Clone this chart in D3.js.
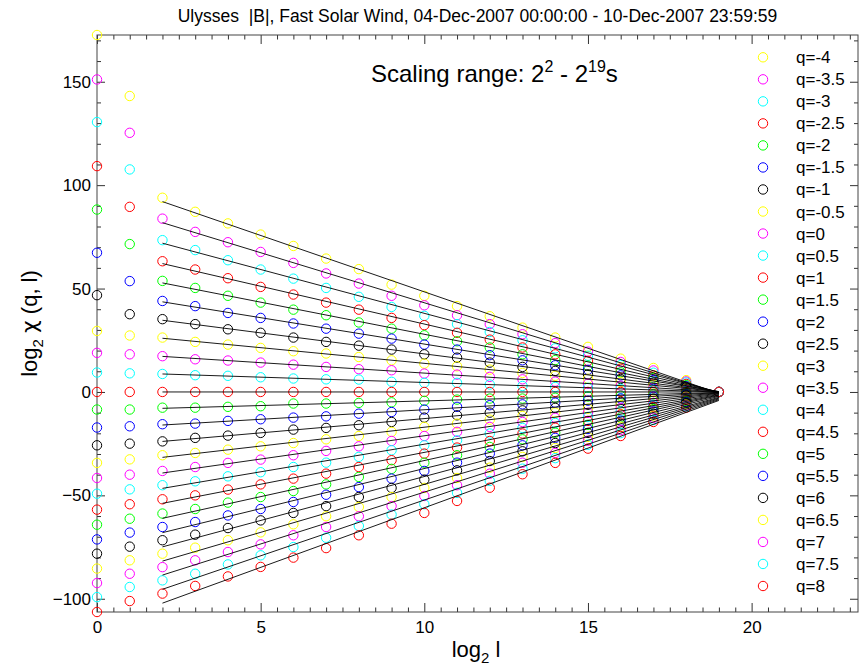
<!DOCTYPE html>
<html>
<head>
<meta charset="utf-8">
<script src="https://cdn.jsdelivr.net/npm/d3@7"></script>
<style>
  body { margin: 0; background: #fff; }
  svg { display: block; font-family: "Liberation Sans", Arial, sans-serif; }
</style>
</head>
<body>
<div id="chart"></div>
<script>
// Multifractal partition function, Ulysses |B|, fast solar wind
const qValues = [-4, -3.5, -3, -2.5, -2, -1.5, -1, -0.5, 0, 0.5, 1, 1.5, 2, 2.5, 3, 3.5, 4, 4.5, 5, 5.5, 6, 6.5, 7, 7.5, 8];
const log2l = [0, 1, 2, 3, 4, 5, 6, 7, 8, 9, 10, 11, 12, 13, 14, 15, 16, 17, 18, 19];

// log2 chi(q, l), one array per scale l, ordered like qValues
const chiL0 = [172.6, 151.1, 130.5, 109.2, 88.2, 67.3, 46.8, 29.5, 18.9, 9.4, 0, -8.5, -17.2, -25.8, -34.3, -41.6, -49.2, -56.9, -64.2, -71.3, -78.2, -85.4, -92.4, -99.2, -106.4];
const chiL1 = [143.1, 125.3, 107.6, 89.5, 71.5, 53.6, 37.6, 27.3, 18.2, 9.0, 0, -8.5, -16.6, -25.0, -32.6, -40.0, -47.1, -54.3, -61.3, -68.0, -74.8, -81.4, -87.9, -94.3, -101.1];
const chiL2 = [93.9, 83.8, 73.4, 63.2, 53.7, 44.0, 35.2, 26.3, 17.3, 8.7, 0, -7.6, -15.6, -23.9, -30.6, -38.2, -45.1, -51.9, -58.8, -65.3, -71.7, -78.2, -84.7, -91.1, -97.5];
const chiL3 = [87.1, 77.4, 68.6, 59.2, 50.3, 41.5, 32.8, 24.2, 15.8, 8.1, 0, -7.6, -15.3, -22.2, -29.5, -36.3, -43.2, -50.0, -56.6, -62.9, -69.0, -75.3, -81.4, -87.9, -93.8];
const chiL4 = [81.5, 72.4, 63.7, 55.0, 46.5, 38.2, 30.3, 22.9, 15.2, 7.8, 0, -7.2, -14.0, -21.1, -27.9, -34.3, -40.8, -47.2, -53.5, -59.7, -65.8, -71.7, -77.4, -83.4, -89.2];
const chiL5 = [76.1, 67.7, 59.2, 50.8, 43.2, 35.8, 28.6, 21.3, 14.2, 7.1, 0, -6.9, -13.2, -19.8, -26.3, -32.7, -38.8, -44.7, -50.8, -56.6, -62.1, -67.9, -73.7, -79.0, -84.6];
const chiL6 = [70.6, 62.4, 54.8, 47.1, 39.8, 33.1, 26.3, 19.7, 13.2, 6.5, 0, -5.6, -12.4, -18.2, -24.7, -30.6, -36.3, -41.9, -47.9, -53.2, -58.5, -64.0, -69.3, -75.0, -80.1];
const chiL7 = [64.5, 57.3, 50.3, 43.2, 37.1, 30.6, 24.2, 18.6, 12.1, 6.1, 0, -5.6, -11.8, -17.4, -22.9, -28.5, -34.2, -39.5, -44.7, -49.7, -55.2, -60.1, -65.3, -70.5, -75.5];
const chiL8 = [59.4, 52.4, 46.0, 39.8, 33.6, 28.2, 22.4, 16.9, 11.0, 6.0, 0, -5.3, -10.5, -16.1, -21.3, -26.3, -31.4, -36.3, -41.1, -46.0, -50.8, -55.6, -60.1, -64.8, -69.3];
const chiL9 = [51.9, 46.5, 41.1, 35.8, 30.6, 25.8, 20.5, 15.3, 10.5, 4.9, 0, -5.0, -9.7, -14.5, -19.3, -23.7, -28.2, -33.0, -37.2, -41.9, -46.4, -50.8, -55.2, -59.3, -63.7];
const chiL10 = [46.5, 41.9, 36.8, 32.3, 27.4, 22.9, 18.2, 13.7, 8.9, 4.4, 0, -4.3, -8.5, -12.4, -16.9, -21.3, -25.8, -29.8, -34.2, -38.2, -42.4, -46.4, -50.3, -54.3, -58.5];
const chiL11 = [41.5, 37.1, 32.8, 28.6, 24.5, 20.5, 16.6, 12.4, 8.4, 4.4, 0, -3.7, -7.2, -11.3, -15.3, -19.3, -23.4, -26.9, -30.6, -34.2, -37.9, -41.6, -45.1, -48.8, -52.7];
const chiL12 = [36.6, 32.8, 29.0, 25.3, 21.5, 17.8, 14.2, 10.8, 7.3, 3.6, 0, -3.2, -6.4, -10.0, -13.4, -16.9, -20.1, -23.7, -26.6, -29.8, -33.4, -36.6, -39.5, -43.0, -46.3];
const chiL13 = [31.1, 27.9, 25.0, 21.5, 18.2, 15.3, 12.1, 9.2, 6.1, 2.9, 0, -3.2, -6.0, -8.9, -11.6, -14.5, -17.4, -20.1, -22.9, -25.8, -28.7, -31.4, -34.2, -37.1, -39.8];
const chiL14 = [26.3, 23.6, 21.1, 18.2, 15.4, 12.9, 10.2, 7.8, 5.0, 2.4, 0, -2.8, -5.2, -7.7, -10.0, -12.5, -15.0, -17.3, -19.7, -22.2, -24.7, -27.1, -29.5, -32.0, -34.3];
const chiL15 = [21.8, 19.5, 17.5, 15.0, 12.7, 10.7, 8.5, 6.4, 4.0, 2.0, 0, -2.2, -4.2, -6.2, -8.1, -10.1, -12.1, -14.0, -15.9, -17.9, -19.8, -21.7, -23.6, -25.5, -27.4];
const chiL16 = [16.1, 14.5, 13.0, 11.2, 9.5, 8.0, 6.3, 4.8, 3.0, 1.5, 0, -1.8, -3.2, -4.8, -6.3, -7.8, -9.4, -10.9, -12.3, -13.9, -15.4, -16.9, -18.4, -19.9, -21.3];
const chiL17 = [11.6, 10.4, 9.3, 8.0, 6.8, 5.7, 4.5, 3.4, 2.0, 1.0, 0, -1.2, -2.2, -3.2, -4.2, -5.3, -6.3, -7.3, -8.3, -9.4, -10.5, -11.4, -12.5, -13.5, -14.5];
const chiL18 = [5.7, 5.1, 4.6, 3.9, 3.3, 2.8, 2.2, 1.6, 1.0, 0.5, 0, -0.6, -1.1, -1.7, -2.2, -2.8, -3.3, -3.8, -4.4, -4.9, -5.5, -6.0, -6.6, -7.1, -7.6];
const chiL19 = [0, 0, 0, 0, 0, 0, 0, 0, 0, 0, 0, 0, 0, 0, 0, 0, 0, 0, 0, 0, 0, 0, 0, 0, 0];

const seriesColors = ['#ffff00', '#ff00ff', '#00ffff', '#ff0000', '#00ff00', '#0000ff', '#000000'];
const xTicks = [0, 5, 10, 15, 20];
const yTicks = [-100, -50, 0, 50, 100, 150];
const fitRange = [2, 19];

const columns = [chiL0, chiL1, chiL2, chiL3, chiL4, chiL5, chiL6, chiL7, chiL8, chiL9,
  chiL10, chiL11, chiL12, chiL13, chiL14, chiL15, chiL16, chiL17, chiL18, chiL19];

const width = 865, height = 666;
const plot = { left: 97, right: 858, top: 35, bottom: 612 };

const svg = d3.select('#chart').append('svg')
  .attr('width', width)
  .attr('height', height);

const x = d3.scaleLinear().domain([0, 23.25]).range([plot.left, plot.right]);
const y = d3.scaleLinear().domain(d3.extent(columns.flat())).range([plot.bottom, plot.top]);

const series = qValues.map((q, i) => ({
  q,
  color: seriesColors[i % seriesColors.length],
  points: log2l.map((l, j) => ({ l, v: columns[j][i] }))
}));

// least squares fit over the scaling range
series.forEach(s => {
  const pts = s.points.filter(p => p.l >= fitRange[0] && p.l <= fitRange[1]);
  const mx = d3.mean(pts, p => p.l), my = d3.mean(pts, p => p.v);
  const slope = d3.sum(pts, p => (p.l - mx) * (p.v - my)) / d3.sum(pts, p => (p.l - mx) ** 2);
  s.fit = fitRange.map(l => ({ l, v: my + slope * (l - mx) }));
});

// Axes (ticks inward on all four sides)
const minorX = d3.range(0, 23.26, 0.5).filter(v => v % 5 !== 0);
const minorY = d3.range(-100, 173, 10).filter(v => v % 50 !== 0);
const axisColor = '#333';

const addAxis = (axis, transform, labels) => {
  const g = svg.append('g').attr('transform', transform).attr('color', axisColor).call(axis);
  g.select('.domain').remove();
  g.selectAll('text').attr('font-size', 17).attr('fill', '#000')
    .attr('font-family', '"Liberation Sans", Arial, sans-serif');
  if (!labels) g.selectAll('text').remove();
  return g;
};

addAxis(d3.axisBottom(x).tickValues(xTicks).tickSize(-9).tickPadding(9).tickFormat(d3.format('d')), `translate(0,${plot.bottom})`, true);
addAxis(d3.axisBottom(x).tickValues(minorX).tickSize(-4.5).tickFormat(''), `translate(0,${plot.bottom})`, false);
addAxis(d3.axisTop(x).tickValues(xTicks).tickSize(-9), `translate(0,${plot.top})`, false);
addAxis(d3.axisTop(x).tickValues(minorX).tickSize(-4.5), `translate(0,${plot.top})`, false);
addAxis(d3.axisLeft(y).tickValues(yTicks).tickSize(-8).tickPadding(6).tickFormat(d3.format('d')), `translate(${plot.left},0)`, true);
addAxis(d3.axisLeft(y).tickValues(minorY).tickSize(-4).tickFormat(''), `translate(${plot.left},0)`, false);
addAxis(d3.axisRight(y).tickValues(yTicks).tickSize(-8), `translate(${plot.right},0)`, false);
addAxis(d3.axisRight(y).tickValues(minorY).tickSize(-4), `translate(${plot.right},0)`, false);

svg.append('rect')
  .attr('x', plot.left).attr('y', plot.top)
  .attr('width', plot.right - plot.left).attr('height', plot.bottom - plot.top)
  .attr('fill', 'none').attr('stroke', '#444').attr('stroke-width', 1);

// Points
const pointGroup = svg.append('g');
series.forEach(s => {
  pointGroup.append('g')
    .selectAll('circle')
    .data(s.points)
    .enter()
    .append('circle')
    .attr('cx', d => x(d.l))
    .attr('cy', d => y(d.v))
    .attr('r', 4.7)
    .attr('fill', 'none')
    .attr('stroke', s.color)
    .attr('stroke-width', 1);
});

// Fit lines
const line = d3.line().x(d => x(d.l)).y(d => y(d.v));
svg.append('g')
  .selectAll('path')
  .data(series)
  .enter()
  .append('path')
  .attr('d', d => line(d.fit))
  .attr('fill', 'none')
  .attr('stroke', '#000')
  .attr('stroke-width', 0.9);

// Legend
const legendY = d3.scaleLinear().domain([0, qValues.length - 1]).range([57.3, 586]);
const legend = svg.append('g');
series.forEach((s, i) => {
  legend.append('circle')
    .attr('cx', 763).attr('cy', legendY(i)).attr('r', 4.7)
    .attr('fill', 'none').attr('stroke', s.color).attr('stroke-width', 1);
  legend.append('text')
    .attr('x', 796).attr('y', legendY(i) + 6)
    .attr('font-size', 17)
    .text(`q=${s.q}`);
});

// Title
svg.append('text')
  .attr('x', (plot.left + plot.right) / 2)
  .attr('y', 22)
  .attr('text-anchor', 'middle')
  .attr('font-size', 17.5)
  .style('white-space', 'pre')
  .text('Ulysses  |B|, Fast Solar Wind, 04-Dec-2007 00:00:00 - 10-Dec-2007 23:59:59');

// Scaling range annotation
const note = svg.append('text').attr('x', 371).attr('y', 82).attr('font-size', 24);
note.append('tspan').text('Scaling range: 2');
note.append('tspan').attr('dy', -10).attr('font-size', 16).text('2');
note.append('tspan').attr('dy', 10).text(' - 2');
note.append('tspan').attr('dy', -10).attr('font-size', 16).text('19');
note.append('tspan').attr('dy', 10).text('s');

// Axis titles
const xTitle = svg.append('text')
  .attr('x', 476).attr('y', 657)
  .attr('text-anchor', 'middle')
  .attr('font-size', 22);
xTitle.append('tspan').text('log');
xTitle.append('tspan').attr('dy', 6).attr('font-size', 15).text('2');
xTitle.append('tspan').attr('dy', -6).text(' l');

const yTitle = svg.append('text')
  .attr('transform', `translate(37,${(plot.top + plot.bottom) / 2}) rotate(-90)`)
  .attr('text-anchor', 'middle')
  .attr('font-size', 22);
yTitle.append('tspan').text('log');
yTitle.append('tspan').attr('dy', 6).attr('font-size', 15).text('2');
yTitle.append('tspan').attr('dy', -6).text(' ');
yTitle.append('tspan').attr('font-family', '"DejaVu Sans", sans-serif').text('\u03c7');
yTitle.append('tspan').text(' (q, l)');
</script>
</body>
</html>
